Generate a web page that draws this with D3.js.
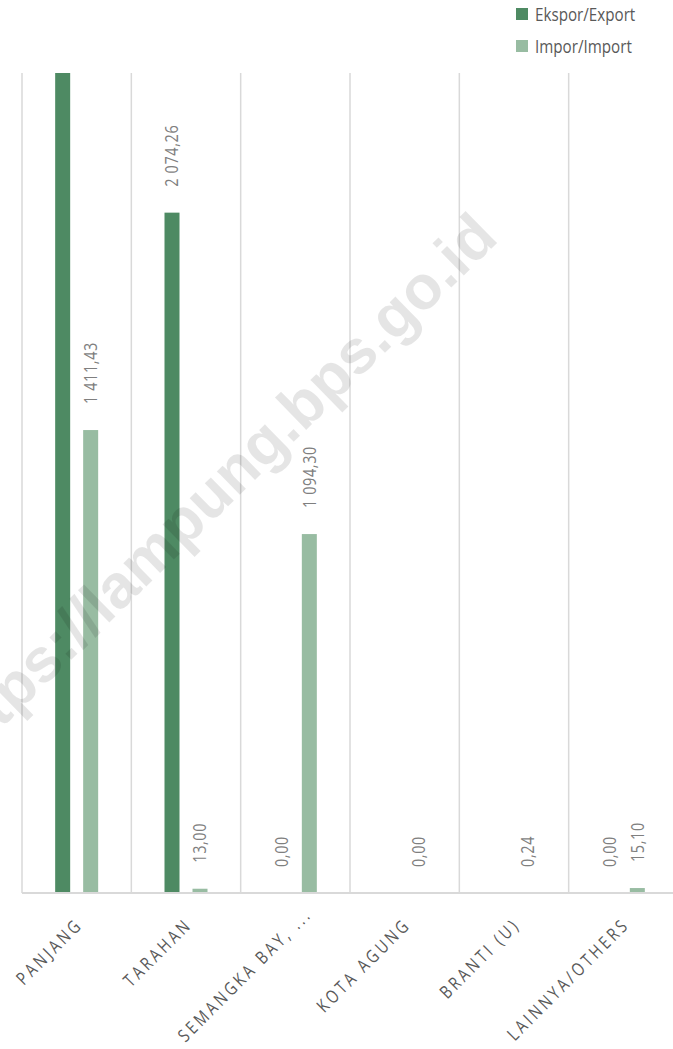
<!DOCTYPE html>
<html>
<head>
<meta charset="utf-8">
<script src="https://cdn.jsdelivr.net/npm/d3@7"></script>
<style>
  body { margin: 0; background: #fff; }
  svg { display: block; }
  text { font-family: "Open Sans", "Noto Sans", sans-serif; }
</style>
</head>
<body>
<div id="chart"></div>
<script>
let width = 673, height = 1049
let margin = { top: 73, right: -5, bottom: 156, left: 22 }

// DATA
let ports = ['PANJANG', 'TARAHAN', 'SEMANGKA BAY, ...', 'KOTA AGUNG', 'BRANTI (U)', 'LAINNYA/OTHERS']
let seriesNames = ['Ekspor/Export', 'Impor/Import']
// Panjang export runs past the top of the axis in the source, value estimated
let exportValues = [3150.00, 2074.26, 0.00, null, null, 0.00]
let importValues = [1411.43, 13.00, 1094.30, 0.00, 0.24, 15.10]
let yMax = 2500

let colors = ['#4e8a63', '#98bca2']
let squeeze = 0.8   // narrow the font to look like a condensed face

let locale = d3.formatLocale({ decimal: ',', thousands: ' ', grouping: [3], currency: ['', ''] })
let fmt = locale.format(',.2f')

let rows = ports.map((p, i) => ({ port: p, values: [exportValues[i], importValues[i]] }))

let svg = d3.select('#chart')
  .append('svg')
  .attr('width', width)
  .attr('height', height)

let plotRight = width - margin.right
let plotBottom = height - margin.bottom

// SCALES
let x = d3.scaleBand()
  .domain(ports)
  .range([margin.left, plotRight])
  .padding(0)

let inner = d3.scaleBand()
  .domain([0, 1])
  .range([x.bandwidth() / 2 - 21.5, x.bandwidth() / 2 + 21.5])
  .paddingInner(0.464)
  .paddingOuter(0)

let y = d3.scaleLinear()
  .domain([0, yMax])
  .range([plotBottom, margin.top])

svg.append('clipPath').attr('id', 'plot-clip')
  .append('rect')
  .attr('x', margin.left)
  .attr('y', margin.top)
  .attr('width', plotRight - margin.left)
  .attr('height', plotBottom - margin.top)

// GRID LINES (vertical, at category boundaries)
let bounds = ports.map(p => x(p)).concat([x(ports[ports.length - 1]) + x.bandwidth()])
svg.append('g')
  .selectAll('line')
  .data(bounds)
  .enter().append('line')
    .attr('x1', d => d)
    .attr('x2', d => d)
    .attr('y1', margin.top)
    .attr('y2', plotBottom)
    .attr('stroke', '#d9d9d9')
    .attr('stroke-width', 1.5)

// BARS
let groups = svg.append('g')
  .attr('clip-path', 'url(#plot-clip)')
  .selectAll('g')
  .data(rows)
  .enter().append('g')
    .attr('transform', d => 'translate(' + x(d.port) + ',0)')

groups.selectAll('rect')
  .data(d => d.values.map((v, i) => ({ v: v, i: i })).filter(e => e.v !== null))
  .enter().append('rect')
    .attr('x', d => inner(d.i))
    .attr('width', inner.bandwidth())
    .attr('y', d => y(d.v))
    .attr('height', d => plotBottom - y(d.v))
    .attr('fill', d => colors[d.i])

// X AXIS LINE
svg.append('line')
  .attr('x1', margin.left)
  .attr('x2', plotRight)
  .attr('y1', plotBottom)
  .attr('y2', plotBottom)
  .attr('stroke', '#d9d9d9')
  .attr('stroke-width', 2)

// VALUE LABELS
let labelData = []
rows.forEach(r => {
  r.values.forEach((v, i) => {
    if (v !== null && v <= yMax) labelData.push({ port: r.port, v: v, i: i })
  })
})

svg.append('g')
  .selectAll('text')
  .data(labelData)
  .enter().append('text')
    .attr('transform', d => {
      let cx = x(d.port) + inner(d.i) + inner.bandwidth() / 2
      return 'translate(' + cx + ',' + (y(d.v) - 26) + ') rotate(-90) scale(' + squeeze + ',1)'
    })
    .attr('dy', '0.36em')
    .style('text-anchor', 'start')
    .style('font-size', '18px')
    .style('letter-spacing', '0.8px')
    .style('fill', '#7f7f7f')
    .text(d => fmt(d.v))

// CATEGORY LABELS (rotated -45, pushed up along their line if they would leave the picture)
let catSpacing = 4
let bottomLimit = 1043
let cats = svg.append('g')
  .selectAll('text')
  .data(ports)
  .enter().append('text')
    .attr('dx', catSpacing)
    .style('text-anchor', 'end')
    .style('font-size', '18px')
    .style('letter-spacing', catSpacing + 'px')
    .style('fill', '#595959')
    .text(d => d)

cats.attr('transform', function (d) {
  let len = (this.getComputedTextLength() - catSpacing) * squeeze
  let ax = x(d) + x.bandwidth() / 2 + 5
  let ay = plotBottom + 35
  let startY = ay + len * Math.SQRT1_2
  if (startY > bottomLimit) {
    let shift = startY - bottomLimit
    ax += shift
    ay -= shift
  }
  return 'translate(' + ax + ',' + ay + ') rotate(-45) scale(' + squeeze + ',1)'
})

// LEGEND
let legend = svg.append('g')
  .selectAll('g')
  .data(seriesNames)
  .enter().append('g')
    .attr('transform', (d, i) => 'translate(516,' + (8 + i * 32) + ')')

legend.append('rect')
  .attr('width', 12)
  .attr('height', 12)
  .attr('fill', (d, i) => colors[i])

legend.append('text')
  .attr('transform', 'translate(19,13) scale(' + squeeze + ',1)')
  .style('font-size', '19px')
  .style('fill', '#595959')
  .text(d => d)

// WATERMARK
svg.append('text')
  .attr('transform', 'translate(500,240) rotate(-44.4)')
  .style('text-anchor', 'end')
  .style('font-family', '"Liberation Sans", Arial, sans-serif')
  .style('font-weight', 'bold')
  .style('font-size', '62px')
  .style('fill', '#000')
  .style('fill-opacity', 0.1)
  .text('https://lampung.bps.go.id')
</script>
</body>
</html>
